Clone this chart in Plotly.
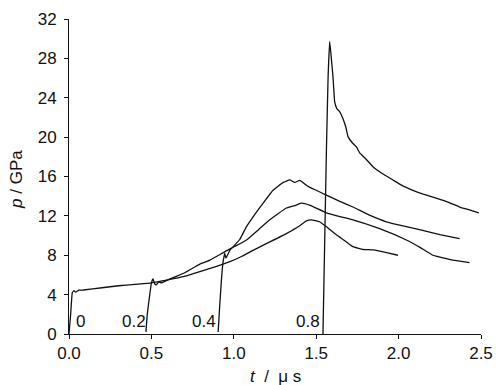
import plotly.graph_objects as go

# gauge depths (labels)
labels = ["0", "0.2", "0.4", "0.8"]
label_t = [0.067, 0.394, 0.818, 1.45]
label_p = [1.25, 1.25, 1.25, 1.25]

# curve "0"
t0 = [0.0, 0.01, 0.02, 0.03, 0.04, 0.06, 0.087, 0.2, 0.3, 0.4, 0.5, 0.6, 0.7, 0.794, 0.9, 0.976,
      1.05, 1.117, 1.2, 1.319, 1.4, 1.44, 1.47, 1.52, 1.562, 1.62, 1.68, 1.723, 1.78, 1.845, 1.92, 1.996]
p0 = [0.0, 2.0, 4.2, 4.4, 4.25, 4.45, 4.47, 4.7, 4.9, 5.05, 5.2, 5.5, 5.85, 6.33, 6.9, 7.35,
      7.9, 8.5, 9.2, 10.2, 11.0, 11.5, 11.6, 11.4, 10.9, 10.1, 9.4, 8.87, 8.6, 8.54, 8.3, 8.0]

# curve "0.2"
t1 = [0.467, 0.475, 0.49, 0.50, 0.51, 0.52, 0.53, 0.545, 0.56, 0.6, 0.7, 0.794, 0.855, 0.95,
      1.077, 1.15, 1.218, 1.319, 1.38, 1.41, 1.46, 1.562, 1.65, 1.723, 1.885, 2.047, 2.13, 2.208, 2.33, 2.43]
p1 = [0.2, 2.0, 4.0, 5.2, 5.6, 5.1, 5.0, 5.3, 5.2, 5.5, 6.2, 7.1, 7.5, 8.4,
      9.55, 10.6, 11.6, 12.8, 13.1, 13.3, 13.1, 12.3, 11.9, 11.6, 10.7, 9.55, 8.8, 8.0, 7.5, 7.25]

# curve "0.4"
t2 = [0.905, 0.915, 0.925, 0.935, 0.94, 0.945, 0.952, 0.976, 1.036, 1.077, 1.13, 1.178, 1.238,
      1.30, 1.339, 1.37, 1.40, 1.45, 1.50, 1.562, 1.64, 1.723, 1.82, 1.925, 2.02, 2.127, 2.25, 2.37]
p2 = [0.2, 3.0, 5.5, 7.35, 7.8, 8.2, 7.7, 8.5, 9.6, 10.9, 12.2, 13.3, 14.6,
      15.4, 15.65, 15.4, 15.6, 15.0, 14.6, 14.1, 13.5, 12.9, 12.1, 11.4, 11.0, 10.6, 10.1, 9.7]

# curve "0.8"
t3 = [1.541, 1.55, 1.562, 1.572, 1.582, 1.592, 1.602, 1.612, 1.625, 1.642, 1.662, 1.68, 1.693,
      1.72, 1.744, 1.764, 1.80, 1.844, 1.90, 1.965, 2.02, 2.087, 2.15, 2.228, 2.30, 2.37, 2.43, 2.487]
p3 = [0.0, 8.0, 18.7, 26.0, 29.7, 28.0, 26.1, 23.6, 22.9, 22.6, 21.9, 21.0, 20.05,
      19.4, 19.0, 18.4, 17.8, 17.0, 16.3, 15.65, 15.1, 14.6, 14.2, 13.8, 13.4, 12.9, 12.6, 12.3]

x_ticks = [0.0, 0.5, 1.0, 1.5, 2.0, 2.5]
x_ticklabels = ["0.0", "0.5", "1.0", "1.5", "2.0", "2.5"]
y_ticks = [0, 4, 8, 12, 16, 20, 24, 28, 32]

FONT = "Liberation Sans Narrow, Arial Narrow, Liberation Sans, Arial, sans-serif"

fig = go.Figure()
for tt, pp in [(t0, p0), (t1, p1), (t2, p2), (t3, p3)]:
    fig.add_trace(go.Scatter(x=tt, y=pp, mode="lines",
                             line=dict(color="#111111", width=1.3, shape="spline", smoothing=0.3),
                             showlegend=False, hoverinfo="skip"))

for lab, lt, lp in zip(labels, label_t, label_p):
    fig.add_annotation(x=lt, y=lp, text=lab, showarrow=False,
                       font=dict(family=FONT, size=17, color="#111111"))

# axis titles placed in pixel-based paper coords
fig.add_annotation(xref="paper", yref="paper", x=0.5, y=-0.135, yanchor="middle",
                   text="<i>t</i>  /  μ s", showarrow=False,
                   font=dict(family=FONT, size=17, color="#111111"))
fig.add_annotation(xref="paper", yref="paper", x=-0.128, y=0.49, xanchor="center",
                   text="<i>p</i> / GPa", textangle=-90, showarrow=False,
                   font=dict(family=FONT, size=17, color="#111111"))

fig.update_layout(
    width=496, height=385,
    margin=dict(l=69, r=15, t=19, b=51, autoexpand=False),
    paper_bgcolor="white", plot_bgcolor="white",
    font=dict(family=FONT, size=17, color="#111111"),
    xaxis=dict(range=[0, 2.5], tickvals=x_ticks, ticktext=x_ticklabels, automargin=False,
               showgrid=False, zeroline=False, showline=True, linecolor="#111111", linewidth=1,
               ticks="outside", ticklen=4, tickcolor="#111111"),
    yaxis=dict(range=[0, 32], tickvals=y_ticks, automargin=False,
               showgrid=False, zeroline=False, showline=True, linecolor="#111111", linewidth=1,
               ticks="outside", ticklen=4, tickcolor="#111111", ticklabelstandoff=4),
)

fig.write_html("out.html")
